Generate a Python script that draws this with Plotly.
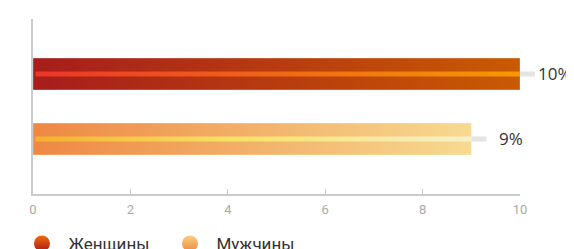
import plotly.graph_objects as go

categories = ["Женщины", "Мужчины"]
values = [10, 9]
labels = ["10%", "9%"]
x_ticks = [0, 2, 4, 6, 8, 10]

bar_scales = [
    [[0, "#a61d1c"], [1, "#c95a02"]],
    [[0, "#ee8843"], [1, "#f7da90"]],
]
stripe_scales = [
    [[0, "#ec3528"], [1, "#f59a00"]],
    [[0, "#f4b030"], [0.45, "#f7e262"], [1, "#f6f0cc"]],
]
legend_top = ["#f26a0a", "#f8cf84"]
legend_bot = ["#a81c1c", "#ee8a40"]

X_MAX = 10
HALF = 0.245
SHALF = 0.04

fig = go.Figure()
for i, (cat, v) in enumerate(zip(categories, values)):
    y = i
    fig.add_trace(go.Scatter(
        x=[0, v, v, 0, 0], y=[y - HALF, y - HALF, y + HALF, y + HALF, y - HALF],
        fill="toself", mode="lines", line=dict(width=1, color="rgba(255,255,255,0.3)"),
        fillgradient=dict(type="horizontal", colorscale=bar_scales[i]),
        showlegend=False, hoverinfo="skip"))
    # inner stripe
    fig.add_trace(go.Scatter(
        x=[0.05, v, v, 0.05, 0.05], y=[y - SHALF, y - SHALF, y + SHALF, y + SHALF, y - SHALF],
        fill="toself", mode="lines", line=dict(width=0),
        fillgradient=dict(type="horizontal", colorscale=stripe_scales[i]),
        showlegend=False, hoverinfo="skip"))
    # gray track extension beyond bar end
    fig.add_shape(type="rect", xref="paper", yref="y", xsizemode="pixel",
                  xanchor=v / X_MAX, x0=0, x1=15, y0=y - SHALF, y1=y + SHALF,
                  fillcolor="#e4e4e4", line=dict(width=0), layer="above")
    fig.add_annotation(x=v, y=y, text=labels[i], showarrow=False,
                       xanchor="right", xshift=54, yshift=1,
                       font=dict(size=17, color="#333333", family="Open Sans"))

for i, cat in enumerate(categories):
    fig.add_trace(go.Scatter(
        x=[None], y=[None], mode="markers", name=cat,
        marker=dict(size=18, symbol="circle", color=legend_top[i],
                    gradient=dict(type="vertical", color=legend_bot[i]))))

fig.update_layout(
    width=566, height=241,
    margin=dict(l=25, r=54, t=11, b=55, autoexpand=False),
    paper_bgcolor="white", plot_bgcolor="white",
    font=dict(family="Roboto", color="#333333"),
    xaxis=dict(range=[0, X_MAX], tickvals=x_ticks, showgrid=False, zeroline=False,
               showline=True, linecolor="#cccccc", linewidth=1.5,
               ticks="inside", ticklen=5, tickcolor="#cccccc", ticklabelstandoff=3,
               tickfont=dict(size=13, color="#aaaaaa", family="Roboto")),
    yaxis=dict(range=[1.846, -0.846], showgrid=False, zeroline=False,
               showline=True, linecolor="#cccccc", linewidth=1.5,
               showticklabels=False, ticks=""),
    legend=dict(orientation="h", x=-0.036, xanchor="left", y=-0.285, yanchor="middle",
                font=dict(size=17, color="#333333", family="Roboto"),
                itemsizing="trace", itemwidth=43, entrywidth=90, entrywidthmode="pixels"),
)

fig.write_html("out.html")
